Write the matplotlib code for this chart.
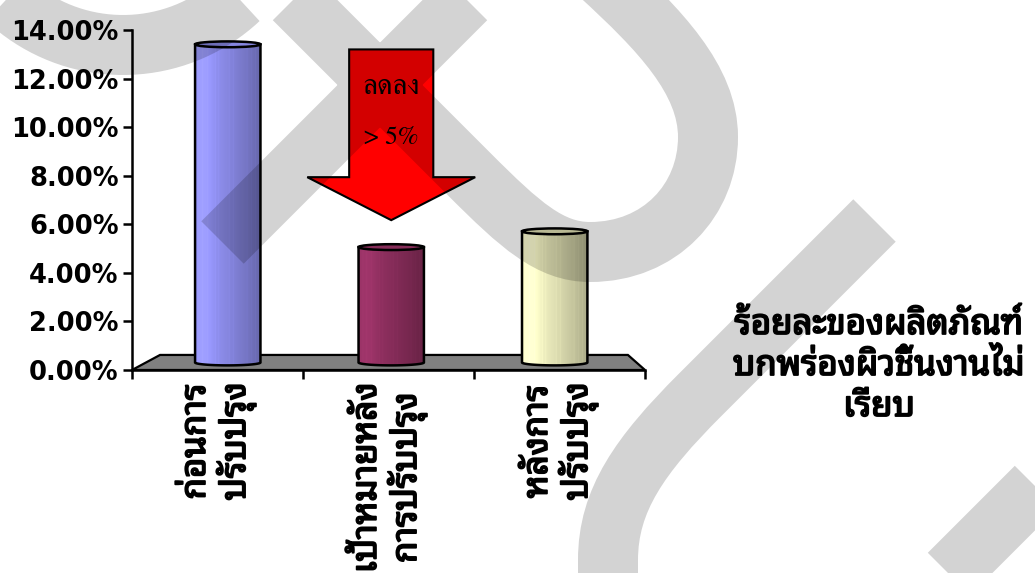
import numpy as np
import matplotlib
matplotlib.use("Agg")
import matplotlib.pyplot as plt
import matplotlib.patheffects as pe
from matplotlib.patches import Polygon, Ellipse, PathPatch
from matplotlib.path import Path
from matplotlib.ticker import FuncFormatter

# --- data -------------------------------------------------------------
CATEGORIES = ['ก่อนการ\nปรับปรุง', 'เป้าหมายหลัง\nการปรับปรุง', 'หลังการ\nปรับปรุง']
VALUES = [0.131, 0.0475, 0.054]
BAR_COLORS = ['#9999FF', '#993366', '#FFFFCC']
SERIES_NAME = 'ร้อยละของผลิตภัณฑ์\nบกพร่องผิวชิ้นงานไม่\nเรียบ'
Y_TICKS = [0.0, 0.02, 0.04, 0.06, 0.08, 0.10, 0.12, 0.14]
ARROW_TEXT = ['ลดลง', '> 5%']

# --- styling / layout ---------------------------------------------------
THAI_SANS = ['Noto Sans Thai Looped', 'Sarabun', 'DejaVu Sans']
THAI_SERIF = ['FreeSerif', 'Noto Serif Thai', 'DejaVu Serif']
HEAVY = [pe.withStroke(linewidth=1.3, foreground='black')]   # faux bold for Thai
BAR_WIDTH = 0.40        # fraction of a category slot
BACK_SCALE = 0.912      # perspective shrink of the back edge of the floor
BACK_SHIFT = 0.032
FLOOR_DEPTH = 0.0062    # how far the back edge of the floor rises
CAP_RY = 0.0012         # half height of the cylinder end ellipses

# arrow drawn over the target bar (data units)
ARROW_TOP, ARROW_NECK, ARROW_TIP = 0.132, 0.0794, 0.0617
ARROW_SHAFT_HW, ARROW_HEAD_HW = 0.246, 0.491


def project(xcat, t):
    """Position on the floor: xcat along categories, t = depth (0 front, 1 back)."""
    s = 1 - (1 - BACK_SCALE) * t
    return 1.5 + (xcat - 1.5) * s + BACK_SHIFT * t, FLOOR_DEPTH * t


def shade_strip(color, n=240):
    rgb = np.array(matplotlib.colors.to_rgb(color))
    t = np.linspace(0, 1, n)
    k = 1.0 + 0.06 * np.exp(-((t - 0.15) / 0.12) ** 2) - 0.33 * t ** 1.4
    # a few faint vertical streaks
    for p in [0.06, 0.11, 0.19, 0.31, 0.36, 0.52, 0.58, 0.79, 0.86, 0.92]:
        k += 0.035 * (np.abs(t - p) < 0.006)
    img = np.clip(rgb[None, :] * k[:, None], 0, 1)
    return img[None, :, :]


fig = plt.figure(figsize=(10.35, 5.73), dpi=100)
W, H = 1035, 573
ax = fig.add_axes([132 / W, (H - 370) / H, (645 - 132) / W, 340 / H])
ax.set_xlim(0, 3)
ax.set_ylim(0, 0.14)

# floor
floor = Polygon([project(0, 0), project(3, 0), project(3, 1), project(0, 1)],
                closed=True, facecolor='#808080', edgecolor='black', lw=1.6,
                zorder=1, clip_on=False)
ax.add_patch(floor)

# cylinders
for i, (val, col) in enumerate(zip(VALUES, BAR_COLORS)):
    xc, yb = project(i + 0.5, 0.5)
    hw = BAR_WIDTH / 2 * (1 - (1 - BACK_SCALE) * 0.5)
    yt = yb + val
    x0, x1 = xc - hw, xc + hw
    th = np.linspace(np.pi, 2 * np.pi, 40)
    verts = [(x0, yt), (x0, yb)]
    verts += list(zip(xc + hw * np.cos(th), yb + CAP_RY * np.sin(th)))
    verts += [(x1, yb), (x1, yt), (x0, yt)]
    body_path = Path(verts, closed=True)
    body = PathPatch(body_path, facecolor='none', edgecolor='black', lw=1.8, zorder=4)
    ax.add_patch(body)
    im = ax.imshow(shade_strip(col), extent=[x0, x1, yb - CAP_RY, yt],
                   aspect='auto', interpolation='bilinear', zorder=3)
    im.set_clip_path(body)
    mid = shade_strip(col)[0, 120]
    ax.add_patch(Ellipse((xc, yt), 2 * hw, 2 * CAP_RY, facecolor=mid,
                         edgecolor='black', lw=1.8, zorder=5))

ax.set_xlim(0, 3)
ax.set_ylim(0, 0.14)

# down arrow with the reduction note
ax_c = project(1.5, 0.5)[0]
arrow = Polygon([(ax_c - ARROW_SHAFT_HW, ARROW_TOP), (ax_c + ARROW_SHAFT_HW, ARROW_TOP),
                 (ax_c + ARROW_SHAFT_HW, ARROW_NECK), (ax_c + ARROW_HEAD_HW, ARROW_NECK),
                 (ax_c, ARROW_TIP), (ax_c - ARROW_HEAD_HW, ARROW_NECK),
                 (ax_c - ARROW_SHAFT_HW, ARROW_NECK)],
                closed=True, facecolor='#FF0000', edgecolor='black', lw=1.5, zorder=6)
ax.add_patch(arrow)
ax.text(ax_c, 0.1165, ARROW_TEXT[0], ha='center', va='center', fontsize=21,
        family=THAI_SERIF, zorder=7)
ax.text(ax_c, 0.0955, ARROW_TEXT[1], ha='center', va='center', fontsize=18.5,
        family=THAI_SERIF, zorder=7)

# axes
for side in ['top', 'right']:
    ax.spines[side].set_visible(False)
for side in ['left', 'bottom']:
    ax.spines[side].set_linewidth(1.8)
    ax.spines[side].set_zorder(2)
ax.set_yticks(Y_TICKS)
ax.yaxis.set_major_formatter(FuncFormatter(lambda v, p: f'{v * 100:.2f}%'))
ax.tick_params(axis='y', length=6.5, width=1.8, pad=3)
for lab in ax.get_yticklabels():
    lab.set_fontsize(18.5)
    lab.set_fontweight('bold')
    lab.set_family('DejaVu Sans')

ax.set_xticks([0, 1, 2, 3])
ax.set_xticklabels([])
ax.tick_params(axis='x', which='major', length=6.5, width=1.8)
ax.set_xticks([0.5, 1.5, 2.5], labels=CATEGORIES, minor=True, rotation=90,
              fontsize=25, family=THAI_SANS, multialignment='center',
              linespacing=1.07, path_effects=HEAVY)
ax.tick_params(axis='x', which='minor', length=0, pad=9)

# series name on the right
fig.text(879 / W, 1 - 366 / H, SERIES_NAME, ha='center', va='center',
         multialignment='center', fontsize=25, family=THAI_SANS,
         linespacing=1.27, path_effects=HEAVY)

# background watermark, drawn as one translucent stroke
wm = fig.add_axes([0, 0, 1, 1], zorder=10)
wm.set_xlim(0, W)
wm.set_ylim(H, 0)
wm.axis('off')
wm.patch.set_alpha(0)

verts, codes = [], []
phi = np.radians(np.linspace(160, 20, 60))
arc = list(zip(123 + 170 * np.cos(phi), -125 + 170 * np.sin(phi)))
verts += arc
codes += [Path.MOVETO] + [Path.LINETO] * (len(arc) - 1)
verts += [(265, -30), (470, 175), (520, 225), (550, 252), (590, 252),
          (660, 252), (708, 200), (708, 137), (708, 80), (660, 30), (600, -25)]
codes += [Path.MOVETO, Path.LINETO] + [Path.CURVE4] * 9
verts += [(222.5, 242.5), (500, -35)]
codes += [Path.MOVETO, Path.LINETO]
verts += [(874.5, 220.5), (700, 395), (640, 455), (608, 500), (608, 560), (608, 600)]
codes += [Path.MOVETO, Path.LINETO, Path.CURVE4, Path.CURVE4, Path.CURVE4, Path.LINETO]
verts += [(1070, 453), (930, 593)]
codes += [Path.MOVETO, Path.LINETO]
wm.add_patch(PathPatch(Path(verts, codes), facecolor='none', edgecolor='black',
                       alpha=0.173, lw=60 * 72 / 100, capstyle='butt', joinstyle='round'))

fig.savefig('out.png', dpi=100)
